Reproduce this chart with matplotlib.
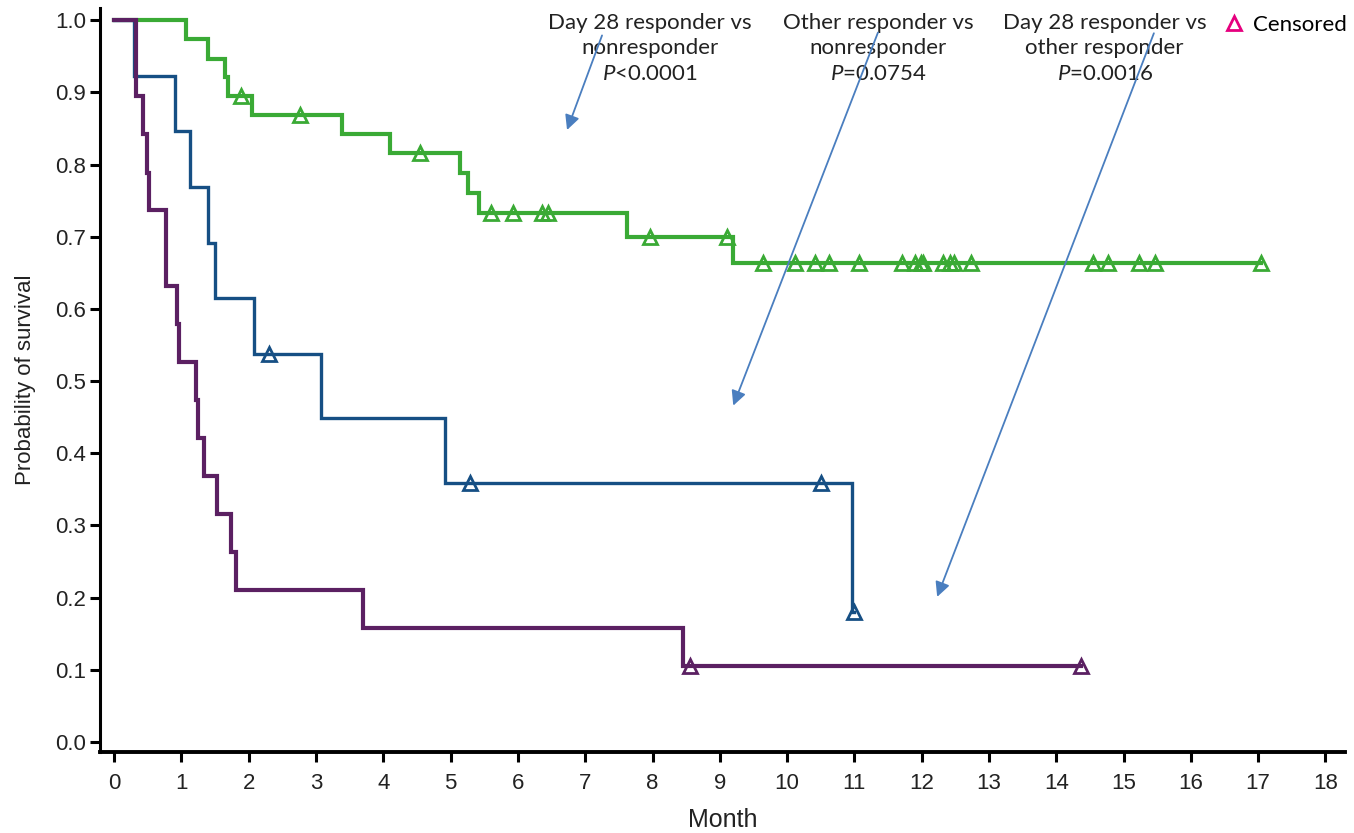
import numpy as np
import matplotlib
matplotlib.use("Agg")
import matplotlib.pyplot as plt
from matplotlib.lines import Line2D

plt.rcParams['font.family'] = ['Liberation Sans', 'DejaVu Sans']
plt.rcParams['mathtext.fontset'] = 'custom'
plt.rcParams['mathtext.rm'] = 'Lato'
plt.rcParams['mathtext.it'] = 'Lato:italic'

# Kaplan-Meier steps (month, survival)
d28_t = [0, 1.07, 1.40, 1.65, 1.69, 2.05, 3.39, 4.10, 5.14, 5.26, 5.42, 7.62, 9.20, 17.04]
d28_s = [1.0, 0.974, 0.947, 0.921, 0.895, 0.869, 0.843, 0.816, 0.788, 0.760, 0.733, 0.700, 0.663, 0.663]
d28_cens = [1.88, 2.76, 4.55, 5.60, 5.93, 6.36, 6.45, 7.96, 9.11, 9.64, 10.12, 10.42, 10.62,
            11.07, 11.71, 11.90, 11.99, 12.02, 12.32, 12.42, 12.48, 12.73, 14.55, 14.77,
            15.23, 15.47, 17.04]

oth_t = [0, 0.29, 0.91, 1.13, 1.40, 1.50, 2.08, 3.08, 4.92, 10.97, 11.0]
oth_s = [1.0, 0.923, 0.846, 0.769, 0.692, 0.615, 0.538, 0.449, 0.359, 0.180, 0.180]
oth_cens = [2.30, 5.29, 10.50, 11.0]

non_t = [0, 0.33, 0.43, 0.49, 0.52, 0.77, 0.93, 0.97, 1.22, 1.25, 1.34, 1.53, 1.74, 1.81,
         3.70, 8.45, 14.37]
non_s = [1.0, 0.895, 0.842, 0.789, 0.737, 0.632, 0.579, 0.526, 0.474, 0.421, 0.368, 0.316,
         0.263, 0.211, 0.158, 0.105, 0.105]
non_cens = [8.55, 14.37]

groups = [
    (d28_t, d28_s, d28_cens, '#3aaa35', 3.0),
    (oth_t, oth_s, oth_cens, '#164f84', 2.4),
    (non_t, non_s, non_cens, '#5b2062', 3.0),
]

comparisons = ["Day 28 responder vs\nnonresponder\n$P$<0.0001",
               "Other responder vs\nnonresponder\n$P$=0.0754",
               "Day 28 responder vs\nother responder\n$P$=0.0016"]
label_x = [7.96, 11.35, 14.72]
arrow_from = [(7.25, 0.979), (11.35, 0.983), (15.45, 0.982)]
arrow_to = [(6.73, 0.848), (9.20, 0.466), (12.23, 0.201)]

fig = plt.figure(figsize=(13.54, 8.33), dpi=100)
ax = fig.add_axes([100 / 1354, 81 / 833, 1245 / 1354, 744 / 833])

for t, s, cens, col, lw in groups:
    ax.step(t, s, where='post', color=col, lw=lw, solid_joinstyle='miter')
    idx = np.searchsorted(t, cens, side='right') - 1
    ax.plot(cens, np.array(s)[idx], ls='none', marker='^', ms=10, mfc='none',
            mec=col, mew=2, clip_on=False)

for txt, x in zip(comparisons, label_x):
    ax.text(x, 0.961, txt, ha='center', va='center', fontsize=16, family='Lato',
            linespacing=1.32, color='#222222')

for a, b in zip(arrow_from, arrow_to):
    ax.annotate('', xy=b, xytext=a,
                arrowprops=dict(arrowstyle='-|>', color='#4a7ebf', lw=1.3,
                                mutation_scale=22, shrinkA=0, shrinkB=0))

h = Line2D([], [], ls='none', marker='^', ms=10, mfc='none', mec='#e6007e', mew=2)
ax.legend([h], ['Censored'], loc='upper right', bbox_to_anchor=(1.014, 1.012),
          frameon=False, handlelength=1.0, handletextpad=0.35, borderpad=0.2,
          prop={'family': 'Lato', 'size': 16})

ax.set_xlim(-0.21, 18.29)
ax.set_ylim(-0.014, 1.017)
ax.set_xticks(range(0, 19))
ax.set_yticks(np.arange(0, 1.01, 0.1))
ax.set_yticklabels([f"{v:.1f}" for v in np.arange(0, 1.01, 0.1)])
ax.tick_params(axis='both', labelsize=16, width=2.2, length=7, direction='out',
               labelcolor='#222222')
ax.tick_params(axis='y', pad=3)
ax.tick_params(axis='x', pad=8)
ax.spines['top'].set_visible(False)
ax.spines['right'].set_visible(False)
ax.spines['left'].set_linewidth(2.2)
ax.spines['bottom'].set_linewidth(2.8)
ax.set_xlabel("Month", fontsize=18, labelpad=10, color='#222222')
ax.set_ylabel("Probability of survival", fontsize=16, labelpad=14, color='#222222')

fig.savefig("out.png", dpi=100)
